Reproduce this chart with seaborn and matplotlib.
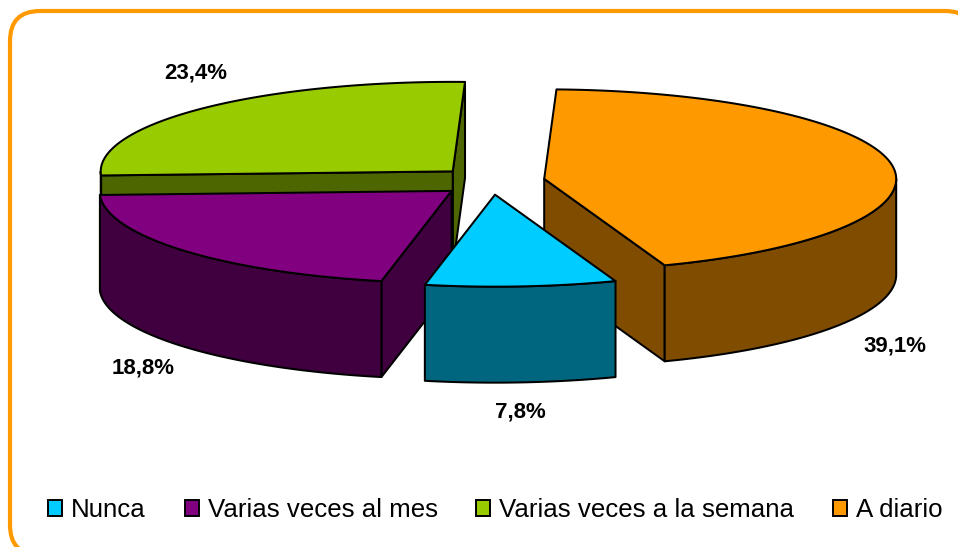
import numpy as np
import matplotlib
matplotlib.use("Agg")
import matplotlib.pyplot as plt
from matplotlib.patches import Polygon, Patch, FancyBboxPatch
import seaborn as sns

# --- data ---
categories = ["A diario", "Nunca", "Varias veces al mes", "Varias veces a la semana"]
values = [39.1, 7.8, 18.8, 23.4]
value_labels = ["39,1%", "7,8%", "18,8%", "23,4%"]
top_colors = ["#FF9900", "#00CCFF", "#800080", "#99CC00"]
side_colors = ["#804D00", "#006680", "#400040", "#4D6600"]
legend_order = ["Nunca", "Varias veces al mes", "Varias veces a la semana", "A diario"]

# --- layout ---
W, H = 958, 547
CX, CY = 491.0, 181.0
RX, RY_BACK, RY_FRONT = 352.0, 89.5, 92.0
DEPTH = 96.0
EXPLODE = 0.153
START = 2.0
LABEL_POS = [(895, 345), (520, 411), (143, 367), (196, 72)]
NUDGE = [(0, 0), (0, 0), (1.5, 1), (0, 0)]

sns.set_theme(style="white")
plt.rcParams["font.family"] = ["Liberation Sans", "DejaVu Sans"]
palette = sns.color_palette(top_colors)
side_palette = sns.color_palette(side_colors)

fig = plt.figure(figsize=(W / 100, H / 100), dpi=100, facecolor="white")
ax = fig.add_axes([0, 0, 1, 1])
ax.set_xlim(0, W)
ax.set_ylim(H, 0)
ax.axis("off")

ax.add_patch(FancyBboxPatch((10, 11), 965, 544, boxstyle="round,pad=0,rounding_size=30",
                            fc="white", ec="#FF9900", lw=3.0, zorder=0))


def pt(c, t, dz=0.0):
    cos_t = np.cos(t)
    ry = RY_BACK if cos_t > 0 else RY_FRONT
    return (c[0] + RX * np.sin(t), c[1] - ry * cos_t + dz)


total = sum(values)
spans = []
a = np.radians(START)
for v in values:
    b = a + 2 * np.pi * v / total
    spans.append((a, b))
    a = b

# draw back to front: green, purple, orange, cyan
order = [3, 2, 0, 1]
z = 1
for i in order:
    a, b = spans[i]
    mid = (a + b) / 2
    c = (CX + EXPLODE * RX * np.sin(mid) + NUDGE[i][0],
         CY - EXPLODE * RY_BACK * np.cos(mid) + NUDGE[i][1])
    style = dict(ec="black", lw=1.45, joinstyle="round")
    # flat cut faces that turn towards the viewer
    faces = []
    if np.sin(b) > 0:
        faces.append(b)
    if np.sin(a) < 0:
        faces.append(a)
    for t in faces:
        p = pt(c, t)
        ax.add_patch(Polygon([c, p, (p[0], p[1] + DEPTH), (c[0], c[1] + DEPTH)],
                             fc=side_palette[i], zorder=z, **style))
        z += 1
    # curved outer wall (front half only)
    lo, hi = max(a, np.pi / 2), min(b, 3 * np.pi / 2)
    if lo < hi:
        ts = np.linspace(lo, hi, 120)
        upper = [pt(c, t) for t in ts]
        lower = [pt(c, t, DEPTH) for t in ts[::-1]]
        ax.add_patch(Polygon(upper + lower, fc=side_palette[i], zorder=z, **style))
        z += 1
    ts = np.linspace(a, b, 240)
    ax.add_patch(Polygon([c] + [pt(c, t) for t in ts], fc=palette[i], zorder=z, **style))
    z += 1

for (x, y), s in zip(LABEL_POS, value_labels):
    ax.text(x, y + 1, s, ha="center", va="center", fontsize=16, fontweight="bold",
            color="black", zorder=z)

handles = [Patch(fc=palette[categories.index(n)], ec="black", lw=1.4, label=n) for n in legend_order]
ax.legend(handles=handles, ncol=4, loc="center", bbox_to_anchor=(495.5 / W, 1 - 510 / H),
          bbox_transform=ax.transAxes, frameon=False, fontsize=18.6, labelcolor="black",
          handlelength=0.54, handleheight=0.54, handletextpad=0.35, columnspacing=1.5,
          borderpad=0, borderaxespad=0)

fig.savefig("out.png", dpi=100)
